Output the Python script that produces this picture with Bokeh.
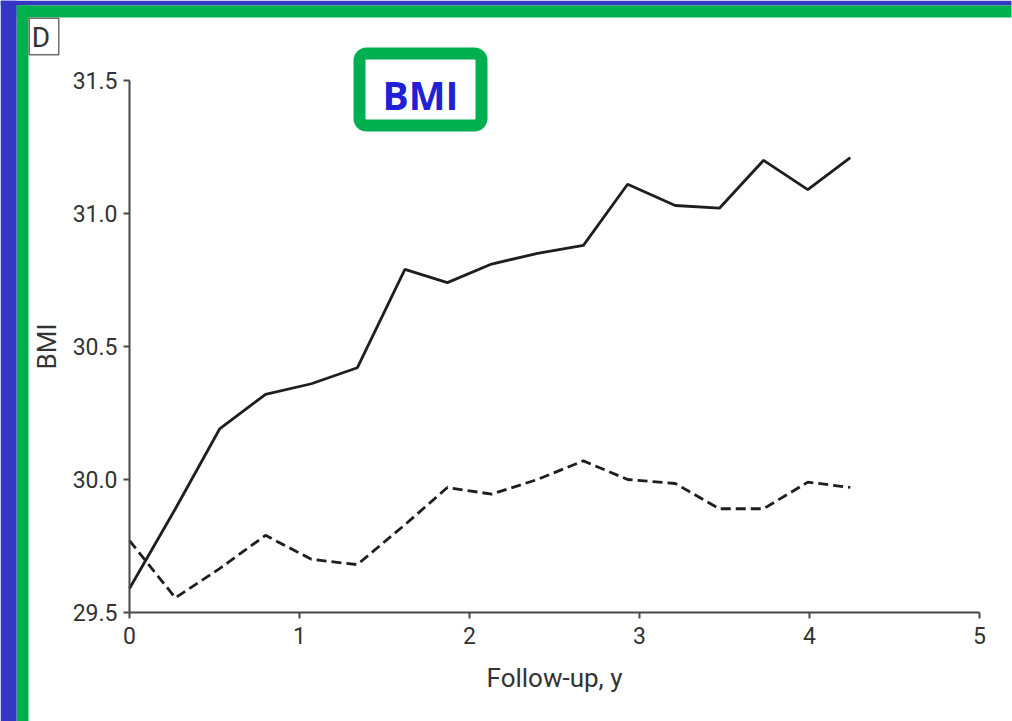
from bokeh.plotting import figure
from bokeh.models import BoxAnnotation, Label, Range1d, FixedTicker, PrintfTickFormatter, LinearAxis
from bokeh.embed import file_html
from bokeh.resources import INLINE

# ---- data ----
years = [0.0, 0.27, 0.53, 0.80, 1.07, 1.34, 1.62, 1.87, 2.13, 2.40, 2.67, 2.93, 3.21, 3.47, 3.73, 3.99, 4.24]
bmi_solid = [29.59, 29.89, 30.19, 30.32, 30.36, 30.42, 30.79, 30.74, 30.81, 30.85, 30.88, 31.11, 31.03, 31.02, 31.20, 31.09, 31.21]
bmi_dashed = [29.77, 29.555, 29.665, 29.79, 29.70, 29.68, 29.83, 29.97, 29.945, 30.00, 30.07, 30.00, 29.985, 29.89, 29.89, 29.99, 29.97]
x_ticks = [0, 1, 2, 3, 4, 5]
y_ticks = [29.5, 30.0, 30.5, 31.0, 31.5]

W, H = 1012, 721
# pixel placement of the axes box (layout, not data)
PX0, PX1 = 129, 979     # x = 0 .. 5
PY0, PY1 = 612, 80      # y = 29.5 .. 31.5
xs = (PX1 - PX0) / 5.0
ys = (PY0 - PY1) / 2.0

FONT = "Roboto"
TXT = "#333333"
AX = "#474747"
BLUE = "#3437c4"
GREEN = "#00b050"

p = figure(width=W, height=H,
           x_range=Range1d(-PX0 / xs, 5 + (W - PX1) / xs),
           y_range=Range1d(29.5 - (H - PY0) / ys, 31.5 + PY1 / ys),
           x_axis_location=None, y_axis_location=None,
           output_backend="svg", toolbar_location=None,
           min_border=0)
p.outline_line_color = None
p.grid.visible = False
p.background_fill_color = "white"
p.border_fill_color = "white"

xaxis = LinearAxis(fixed_location=29.5, bounds=(0, 5), ticker=FixedTicker(ticks=x_ticks),
                   axis_label="Follow-up, y")
yaxis = LinearAxis(fixed_location=0, bounds=(29.5, 31.5), ticker=FixedTicker(ticks=y_ticks),
                   formatter=PrintfTickFormatter(format="%.1f"), axis_label="BMI")
for ax in (xaxis, yaxis):
    ax.axis_line_color = AX
    ax.axis_line_width = 2
    ax.major_tick_line_color = AX
    ax.major_tick_line_width = 2
    ax.major_tick_out = 6
    ax.major_tick_in = 0
    ax.minor_tick_line_color = None
    ax.major_label_text_font = FONT
    ax.major_label_text_font_size = "23px"
    ax.major_label_text_color = TXT
    ax.axis_label_text_font = FONT
    ax.axis_label_text_font_size = "26px"
    ax.axis_label_text_font_style = "normal"
    ax.axis_label_text_color = TXT
xaxis.major_label_standoff = 8
yaxis.major_label_standoff = 6
xaxis.axis_label_standoff = 16
yaxis.axis_label_standoff = 8
p.add_layout(xaxis, "below")
p.add_layout(yaxis, "left")

p.line(years, bmi_solid, line_color="#1e1e1e", line_width=2.8)
p.line(years, bmi_dashed, line_color="#1e1e1e", line_width=2.8, line_dash="10 5")

# ---- slide chrome ----
def box(l, r, t, b, **kw):
    return BoxAnnotation(left=l, right=r, top=t, bottom=b,
                         left_units="canvas", right_units="canvas",
                         top_units="canvas", bottom_units="canvas", **kw)

p.add_layout(box(0, W - 1, 0, 5, fill_color=BLUE, fill_alpha=1, line_alpha=0))
p.add_layout(box(16, W - 1, 5, 17, fill_color=GREEN, fill_alpha=1, line_alpha=0))
p.add_layout(box(16, 28, 5, H, fill_color=GREEN, fill_alpha=1, line_alpha=0))
p.add_layout(box(0, 16, 0, H, fill_color=BLUE, fill_alpha=1, line_alpha=0))
p.add_layout(box(28.75, 58.25, 17.75, 54.25, fill_color="white", fill_alpha=1,
                 line_color="#6e6e6e", line_alpha=1, line_width=1.5))
p.add_layout(Label(x=40.5, y=37, x_units="canvas", y_units="canvas", text="D",
                   text_align="center", text_baseline="middle", text_font=FONT,
                   text_font_size="28px", text_color=TXT))
p.add_layout(box(359, 481, 53, 125, fill_color="white", fill_alpha=1, line_color=GREEN,
                 line_alpha=1, line_width=12, border_radius=7))
p.add_layout(Label(x=420, y=94, x_units="canvas", y_units="canvas", text="BMI",
                   text_align="center", text_baseline="middle", text_font="Open Sans",
                   text_font_style="bold", text_font_size="39px", text_color="#2020d6"))

open("out.html", "w").write(file_html(p, INLINE))
